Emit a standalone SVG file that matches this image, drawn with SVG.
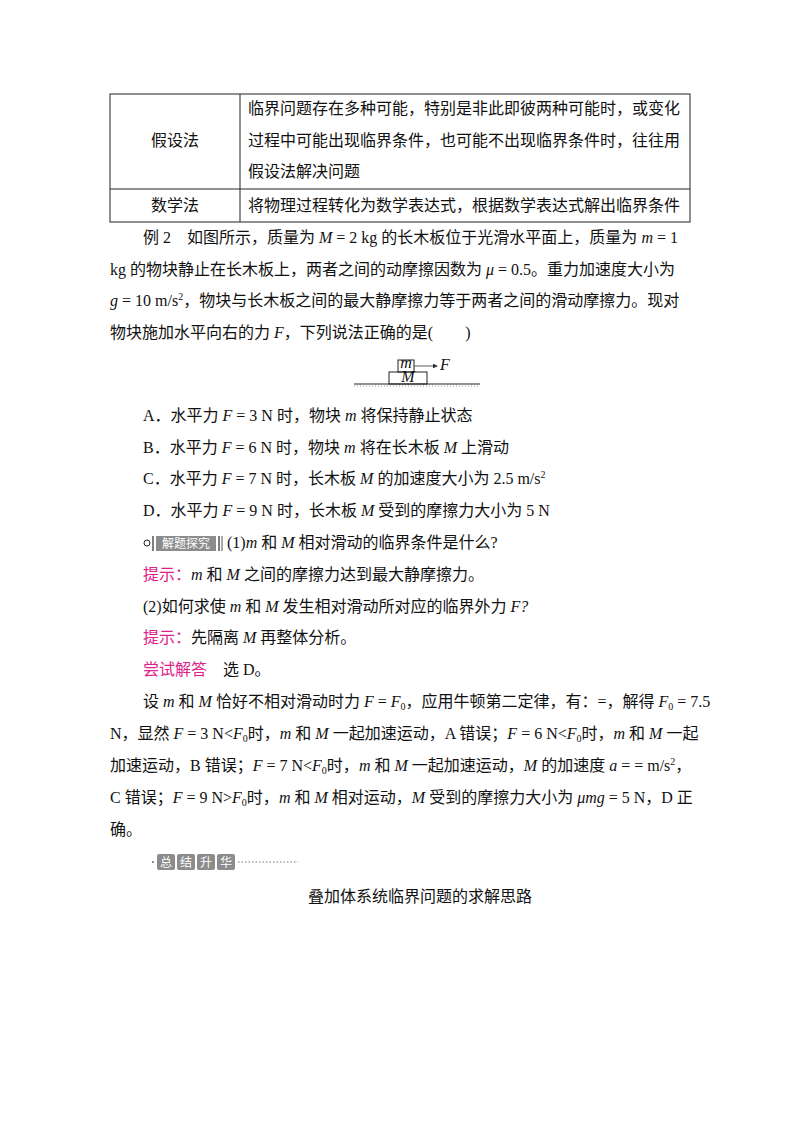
<svg xmlns="http://www.w3.org/2000/svg" width="800" height="1132" viewBox="0 0 800 1132">
<style>
text{font-family:"Liberation Serif","Noto Sans CJK SC",serif;font-size:16px;fill:#111}
.i{font-style:italic}
.r{fill:#e0218a}
.ln{stroke:#222;stroke-width:1;fill:none}
.b{fill:#8c8c8c}
.bt{fill:#fff;font-size:12px}
</style>
<defs><marker id="ah" markerWidth="6" markerHeight="6" refX="5" refY="3" orient="auto"><path d="M0,0L6,3L0,6z" fill="#333"/></marker></defs>
<g id="table">
<rect class="ln" x="110" y="94" width="580" height="128"/>
<line class="ln" x1="240" y1="94" x2="240" y2="222"/>
<line class="ln" x1="110" y1="189" x2="690" y2="189"/>
<text x="175" y="146" text-anchor="middle">假设法</text>
<text x="248" y="114">临界问题存在多种可能，特别是非此即彼两种可能时，或变化</text>
<text x="248" y="146">过程中可能出现临界条件，也可能不出现临界条件时，往往用</text>
<text x="248" y="177">假设法解决问题</text>
<text x="175" y="211" text-anchor="middle">数学法</text>
<text x="248" y="211">将物理过程转化为数学表达式，根据数学表达式解出临界条件</text>
</g>
<g id="problem">
<text x="143" y="243">例 2　如图所示，质量为 <tspan class="i">M</tspan> = 2 kg 的长木板位于光滑水平面上，质量为 <tspan class="i">m</tspan> = 1</text>
<text x="110" y="275">kg 的物块静止在长木板上，两者之间的动摩擦因数为 <tspan class="i">μ</tspan> = 0.5。重力加速度大小为</text>
<text x="110" y="306"><tspan class="i">g</tspan> = 10 m/s<tspan font-size="10" dy="-6">2</tspan><tspan dy="6">，物块与长木板之间的最大静摩擦力等于两者之间的滑动摩擦力。现对</tspan></text>
<text x="110" y="338">物块施加水平向右的力 <tspan class="i">F</tspan>，下列说法正确的是(　　)</text>
</g>
<g id="figure">
<line class="ln" x1="354" y1="384" x2="480" y2="384"/>
<path d="M354,386h126" stroke="#999" stroke-dasharray="1,2"/>
<rect class="ln" x="389" y="372" width="38" height="12" stroke-width="0.7"/>
<rect class="ln" x="398" y="360" width="16" height="12" stroke-width="0.7"/>
<text x="406" y="367.5" class="i" font-size="5" text-anchor="middle">m</text>
<text x="408" y="381.5" class="i" font-size="6" text-anchor="middle">M</text>
<line x1="414" y1="366" x2="437" y2="366" stroke="#333" stroke-width="0.8" marker-end="url(#ah)"/>
<text x="440" y="369.5" class="i" font-size="9">F</text>
</g>
<g id="options">
<text x="143" y="421">A．水平力 <tspan class="i">F</tspan> = 3 N 时，物块 <tspan class="i">m</tspan> 将保持静止状态</text>
<text x="143" y="453">B．水平力 <tspan class="i">F</tspan> = 6 N 时，物块 <tspan class="i">m</tspan> 将在长木板 <tspan class="i">M</tspan> 上滑动</text>
<text x="143" y="484">C．水平力 <tspan class="i">F</tspan> = 7 N 时，长木板 <tspan class="i">M</tspan> 的加速度大小为 2.5 m/s<tspan font-size="10" dy="-6">2</tspan></text>
<text x="143" y="516">D．水平力 <tspan class="i">F</tspan> = 9 N 时，长木板 <tspan class="i">M</tspan> 受到的摩擦力大小为 5 N</text>
</g>
<g id="explore">
<circle cx="147" cy="543" r="3" class="ln"/>
<line x1="153" y1="536" x2="153" y2="551" stroke="#555" stroke-width="1.5"/>
<rect class="b" x="156" y="536" width="60" height="15"/>
<text class="bt" x="186" y="548" text-anchor="middle">解题探究</text>
<line x1="219" y1="536" x2="219" y2="551" stroke="#555" stroke-width="1.5"/>
<line x1="222" y1="536" x2="222" y2="551" stroke="#555" stroke-width="1"/>
<text x="227" y="548">(1)<tspan class="i">m</tspan> 和 <tspan class="i">M</tspan> 相对滑动的临界条件是什么?</text>
<text x="143" y="580"><tspan class="r">提示：</tspan><tspan class="i">m</tspan> 和 <tspan class="i">M</tspan> 之间的摩擦力达到最大静摩擦力。</text>
<text x="143" y="612">(2)如何求使 <tspan class="i">m</tspan> 和 <tspan class="i">M</tspan> 发生相对滑动所对应的临界外力 <tspan class="i">F?</tspan></text>
<text x="143" y="643"><tspan class="r">提示：</tspan>先隔离 <tspan class="i">M</tspan> 再整体分析。</text>
<text x="143" y="675"><tspan class="r">尝试解答</tspan>　选 D。</text>
</g>
<g id="solution">
<text x="143" y="707">设 <tspan class="i">m</tspan> 和 <tspan class="i">M</tspan> 恰好不相对滑动时力 <tspan class="i">F</tspan> = <tspan class="i">F</tspan><tspan font-size="10" dy="3">0</tspan><tspan dy="-3">，应用牛顿第二定律，有：=，解得 </tspan><tspan class="i">F</tspan><tspan font-size="10" dy="3">0</tspan><tspan dy="-3"> = 7.5</tspan></text>
<text x="110" y="739">N，显然 <tspan class="i">F</tspan> = 3 N&lt;<tspan class="i">F</tspan><tspan font-size="10" dy="3">0</tspan><tspan dy="-3">时，</tspan><tspan class="i">m</tspan> 和 <tspan class="i">M</tspan> 一起加速运动，A 错误；<tspan class="i">F</tspan> = 6 N&lt;<tspan class="i">F</tspan><tspan font-size="10" dy="3">0</tspan><tspan dy="-3">时，</tspan><tspan class="i">m</tspan> 和 <tspan class="i">M</tspan> 一起</text>
<text x="110" y="771">加速运动，B 错误；<tspan class="i">F</tspan> = 7 N&lt;<tspan class="i">F</tspan><tspan font-size="10" dy="3">0</tspan><tspan dy="-3">时，</tspan><tspan class="i">m</tspan> 和 <tspan class="i">M</tspan> 一起加速运动，<tspan class="i">M</tspan> 的加速度 <tspan class="i">a</tspan> = =  m/s<tspan font-size="10" dy="-6">2</tspan><tspan dy="6">，</tspan></text>
<text x="110" y="803">C 错误；<tspan class="i">F</tspan> = 9 N&gt;<tspan class="i">F</tspan><tspan font-size="10" dy="3">0</tspan><tspan dy="-3">时，</tspan><tspan class="i">m</tspan> 和 <tspan class="i">M</tspan> 相对运动，<tspan class="i">M</tspan> 受到的摩擦力大小为 <tspan class="i">μmg</tspan> = 5 N，D 正</text>
<text x="110" y="835">确。</text>
</g>
<g id="summary">
<circle cx="153" cy="862" r="1" fill="#666"/>
<rect class="b" x="157" y="854" width="18" height="16" rx="2"/>
<rect class="b" x="177" y="854" width="18" height="16" rx="2"/>
<rect class="b" x="197" y="854" width="18" height="16" rx="2"/>
<rect class="b" x="217" y="854" width="18" height="16" rx="2"/>
<text class="bt" x="166" y="866.5" text-anchor="middle">总</text>
<text class="bt" x="186" y="866.5" text-anchor="middle">结</text>
<text class="bt" x="206" y="866.5" text-anchor="middle">升</text>
<text class="bt" x="226" y="866.5" text-anchor="middle">华</text>
<line x1="238" y1="862" x2="298" y2="862" stroke="#777" stroke-dasharray="1.5,2"/>
<text x="420" y="902" text-anchor="middle">叠加体系统临界问题的求解思路</text>
</g>
</svg>
